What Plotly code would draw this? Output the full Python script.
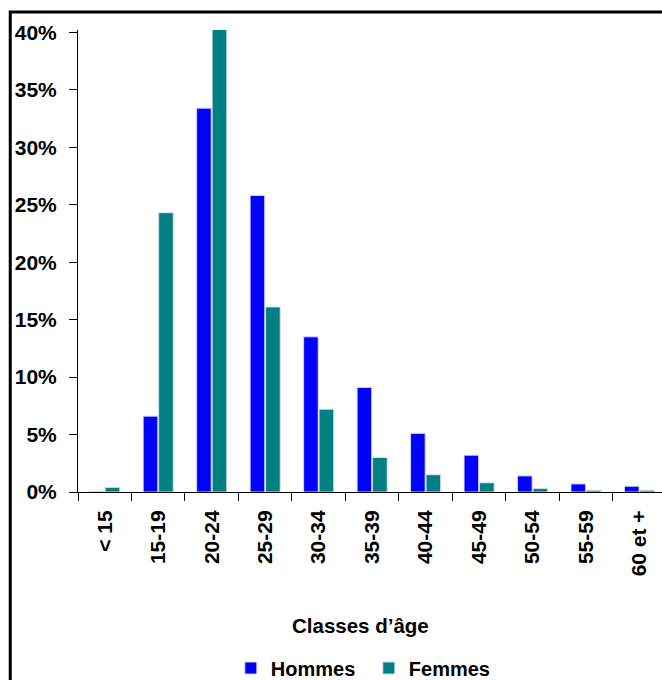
import plotly.graph_objects as go

AGE_CLASSES = ["< 15", "15-19", "20-24", "25-29", "30-34", "35-39",
               "40-44", "45-49", "50-54", "55-59", "60 et +"]
HOMMES = [0.05, 6.6, 33.4, 25.8, 13.5, 9.1, 5.1, 3.2, 1.4, 0.7, 0.5]
FEMMES = [0.4, 24.3, 40.3, 16.1, 7.2, 3.0, 1.5, 0.8, 0.3, 0.15, 0.15]

FONT = "Liberation Sans"
BAR_EDGE = dict(color="rgba(220,220,255,0.9)", width=1)

fig = go.Figure()
fig.add_trace(go.Bar(
    name="Hommes", x=AGE_CLASSES, y=HOMMES,
    marker=dict(color="#0000FF", line=BAR_EDGE),
))
fig.add_trace(go.Bar(
    name="Femmes", x=AGE_CLASSES, y=FEMMES,
    marker=dict(color="#008080", line=BAR_EDGE),
))

fig.update_layout(
    width=662,
    height=680,
    margin=dict(l=78, r=0, t=30, b=188, autoexpand=False),
    paper_bgcolor="white",
    plot_bgcolor="white",
    font=dict(family=FONT, color="black", size=19),
    barmode="group",
    bargap=0.42,
    bargroupgap=0.06,
    showlegend=True,
    legend=dict(
        orientation="h", x=0.498, xanchor="center", y=-0.381, yanchor="middle",
        font=dict(family=FONT, size=20, weight="bold"),
        entrywidth=93, itemwidth=30, traceorder="normal",
    ),
    xaxis=dict(
        range=[-0.5, 10.42],
        tickson="boundaries",
        ticks="outside", ticklen=8, tickcolor="black", tickwidth=1,
        tickangle=-90, ticklabelstandoff=9,
        tickfont=dict(family=FONT, size=21, weight="bold"),
        showline=True, linecolor="black", linewidth=1,
        showgrid=False, zeroline=False,
        automargin=False,
    ),
    yaxis=dict(
        range=[0, 40.2],
        dtick=5, ticksuffix="%",
        ticks="outside", ticklen=8, tickcolor="black", tickwidth=1,
        ticklabelstandoff=8,
        tickfont=dict(family=FONT, size=21, weight="bold"),
        showline=True, linecolor="black", linewidth=1,
        showgrid=False, zeroline=False,
        automargin=False,
    ),
    annotations=[dict(
        text="Classes d’âge", xref="paper", yref="paper",
        x=0.483, y=-0.288, xanchor="center", yanchor="middle",
        showarrow=False, font=dict(family=FONT, size=20.5, weight="bold"),
    )],
    shapes=[dict(
        type="rect", xref="paper", yref="paper",
        x0=-0.116, x1=1.2, y0=-0.6, y1=1.039,
        line=dict(color="black", width=3),
    )],
)

# drop the default page margin so the figure sits at the window's corner
fig.write_html(
    "out.html",
    config={"displayModeBar": False},
    post_script="document.body.style.margin = '0';"
                "document.documentElement.style.overflow = 'hidden';",
)
